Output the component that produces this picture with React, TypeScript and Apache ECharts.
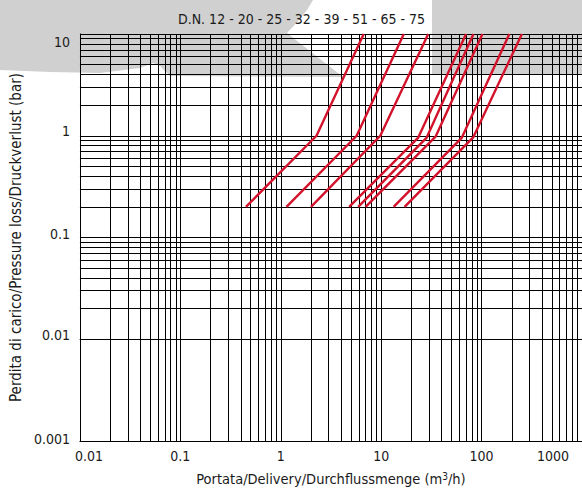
import React, { useEffect, useRef } from "react";
import * as echarts from "echarts";

// ---- data ----
const seriesNames = ["D.N. 12", "D.N. 20", "D.N. 25", "D.N. 32", "D.N. 39", "D.N. 51", "D.N. 65", "D.N. 75"];
const flowStart = [0.45, 1.14, 2.0, 4.8, 5.9, 7.0, 13.3, 17.1];
const flowKnee = [2.27, 5.7, 9.8, 23.4, 28.4, 34.8, 63.7, 82.9];
const flowTop = [6.7, 16.8, 29.4, 70, 83, 102, 189, 252];
const lossStart = [0.2, 0.2, 0.2, 0.2, 0.2, 0.2, 0.2, 0.2];
const lossKnee = [1.0, 1.0, 1.0, 0.96, 0.96, 0.98, 0.96, 0.97];
const lossTop = [10, 10, 10, 10, 10, 10, 10, 10];

const xTickLabels = ["0.01", "0.1", "1", "10", "100", "1000"];
const yTickLabels = ["0.001", "0.01", "0.1", "1", "10"];
const xDecades = [0.01, 0.1, 1, 10, 100];
const yDecades = [0.001, 0.01, 0.1, 1];
const minorMultipliers = [2, 3, 4, 5, 6, 7, 8, 9];

const titleText = "D.N. 12 - 20 - 25 - 32 - 39 - 51 - 65 - 75";
const xName = "Portata/Delivery/Durchflussmenge (m{sup|3}/h)";
const yName = "Perdita di carico/Pressure loss/Druckverlust (bar)";

const FONT = "'DejaVu Sans Condensed', 'Liberation Sans', sans-serif";
const RED = "#d3132b";
const TXT = "#1a1a1a";

export default function App() {
  const ref = useRef<HTMLDivElement>(null);
  useEffect(() => {
    document.body.style.margin = "0";
    const chart = echarts.init(ref.current!, undefined, { renderer: "svg" });

    const xMinor: number[] = [];
    xDecades.forEach((d) => minorMultipliers.forEach((m) => xMinor.push(+(d * m).toPrecision(6))));
    const yMinor: number[] = [];
    yDecades.forEach((d) => minorMultipliers.forEach((m) => yMinor.push(+(d * m).toPrecision(6))));

    const curves = seriesNames.map((name, i) => ({
      name,
      type: "line",
      data: [
        [flowStart[i], lossStart[i]],
        [flowKnee[i], lossKnee[i]],
        [flowTop[i], lossTop[i]],
      ],
      symbol: "none",
      lineStyle: { color: RED, width: 2.4 },
      itemStyle: { color: RED },
      z: 5,
      silent: true,
    }));

    const xLabelIdx = (v: number) => Math.round(Math.log10(v)) + 2;
    const yLabelIdx = (v: number) => Math.round(Math.log10(v)) + 3;

    chart.setOption({
      animation: false,
      backgroundColor: "#ffffff",
      title: {
        text: titleText,
        left: 173,
        top: 7,
        textStyle: { fontFamily: FONT, fontSize: 14, fontWeight: "normal", color: TXT },
      },
      graphic: [
        {
          type: "polygon",
          z: -10,
          silent: true,
          shape: {
            points: [
              [0, 0], [313, 0], [307, 10], [299, 20], [287, 33], [343, 77],
              [170, 76], [160, 66], [153, 63], [140, 68], [100, 73], [50, 72], [0, 70],
            ],
          },
          style: { fill: "#d0d0d0" },
        },
        {
          type: "rect",
          z: -10,
          silent: true,
          shape: { x: 432, y: 0, width: 150, height: 75 },
          style: { fill: "#d0d0d0" },
        },
      ],
      grid: { left: 77, top: 34, right: -5, bottom: 50, containLabel: false },
      xAxis: {
        type: "log",
        logBase: 10,
        min: 0.01,
        max: 1000,
        name: xName,
        nameLocation: "middle",
        nameGap: 30,
        nameTextStyle: {
          fontFamily: FONT,
          fontSize: 14.5,
          color: TXT,
          rich: { sup: { fontFamily: FONT, fontSize: 10, verticalAlign: "top", padding: [0, 0, 5, 0], color: TXT } },
        },
        axisLine: { show: true, lineStyle: { color: "#000", width: 1 } },
        axisTick: { show: false },
        splitLine: { show: true, lineStyle: { color: "#000", width: 1 } },
        axisLabel: {
          margin: 8,
          fontFamily: FONT,
          fontSize: 14,
          color: TXT,
          formatter: (v: number) => {
            const i = xLabelIdx(v);
            const t = xTickLabels[i] ?? "";
            if (i === 0) return `{first|${t}}`;
            if (i === xTickLabels.length - 1) return `{last|${t}}`;
            return `{n|${t}}`;
          },
          rich: {
            first: { fontFamily: FONT, fontSize: 14, color: TXT, padding: [0, 0, 0, 18] },
            last: { fontFamily: FONT, fontSize: 14, color: TXT, padding: [0, 58, 0, 0] },
            n: { fontFamily: FONT, fontSize: 14, color: TXT },
          },
        },
      },
      yAxis: {
        type: "log",
        logBase: 10,
        min: 0.001,
        max: 10,
        name: yName,
        nameLocation: "middle",
        nameGap: 44,
        nameTextStyle: { fontFamily: FONT, fontSize: 15, color: TXT },
        axisLine: { show: true, lineStyle: { color: "#000", width: 1 } },
        axisTick: { show: false },
        splitLine: { show: true, lineStyle: { color: "#000", width: 1 } },
        axisLabel: {
          margin: 10,
          fontFamily: FONT,
          fontSize: 14,
          color: TXT,
          formatter: (v: number) => {
            const i = yLabelIdx(v);
            const t = yTickLabels[i] ?? "";
            const style = ["d4", "d8", "d8", "d10", "t16"][i] ?? "d4";
            return `{${style}|${t}}`;
          },
          rich: {
            d4: { fontFamily: FONT, fontSize: 14, color: TXT, padding: [0, 0, 4, 0] },
            d8: { fontFamily: FONT, fontSize: 14, color: TXT, padding: [0, 0, 8, 0] },
            d10: { fontFamily: FONT, fontSize: 14, color: TXT, padding: [0, 0, 10, 0] },
            t16: { fontFamily: FONT, fontSize: 14, color: TXT, padding: [16, 0, 0, 0] },
          },
        },
      },
      series: [
        {
          name: "grid",
          type: "line",
          data: [[1, 1]],
          symbol: "none",
          showSymbol: false,
          lineStyle: { opacity: 0 },
          silent: true,
          z: 1,
          markLine: {
            silent: true,
            symbol: ["none", "none"],
            label: { show: false },
            lineStyle: { color: "#000", width: 1, type: "solid" },
            emphasis: { disabled: true },
            data: [
              ...xMinor.map((v) => ({ xAxis: v })),
              ...yMinor.map((v) => ({ yAxis: v })),
            ],
          },
        },
        ...curves,
      ],
    });
    return () => chart.dispose();
  }, []);
  return <div ref={ref} style={{ width: 582, height: 491 }} />;
}
